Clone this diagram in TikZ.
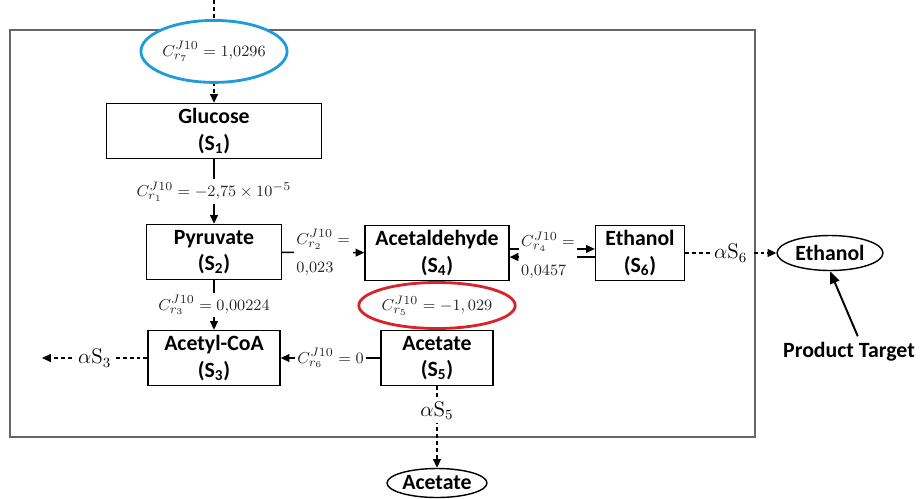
\documentclass[tikz,border=0pt]{standalone}
\usepackage{amsmath,amssymb}
\usepackage{fontspec}
\setsansfont{Carlito}
\usetikzlibrary{arrows.meta,positioning,shapes.geometric}
\definecolor{ringblue}{HTML}{1E9BD8}
\definecolor{ringred}{HTML}{D9232B}

\begin{document}
\begin{tikzpicture}[x=0.02cm,y=-0.02cm,
		box/.style={draw,line width=0.8pt,minimum height=1.1cm,align=center,inner sep=1pt,font=\sffamily\bfseries\fontsize{12.4}{15}\selectfont},
		rate/.style={fill=white,inner sep=1.5pt,align=left,text=black!85,font=\fontsize{9.5}{16}\selectfont},
		ring/.style={ellipse,draw,solid,line width=1.6pt,fill=white,inner sep=0pt,text=black!85,font=\fontsize{9.5}{12}\selectfont},
		sink/.style={ellipse,draw,line width=0.8pt,inner sep=0pt,font=\sffamily\bfseries\fontsize{12.4}{15}\selectfont},
		flux/.style={fill=white,inner sep=2pt,font=\fontsize{12}{14}\selectfont},
		arr/.style={line width=0.8pt,-{Triangle[length=5pt,width=4.5pt]}},
		darr/.style={arr,dash pattern=on 2.2pt off 1.7pt}]
	\useasboundingbox (0,0) rectangle (920,498);
	% Frame
	\draw[gray!80!black,line width=1.1pt] (10,30) rectangle (755,437);

	% Nodes
	\coordinate (in) at (214,0);
	\coordinate (out3) at (42,358);
	\node[box,minimum width=4.3cm] (s1) at (214,131) {Glucose\\(S\textsubscript{1})};
	\node[box,minimum width=2.7cm] (s2) at (214,252) {Pyruvate\\(S\textsubscript{2})};
	\node[box,minimum width=2.64cm] (s3) at (214,358) {Acetyl-CoA\\(S\textsubscript{3})};
	\node[box,minimum width=2.88cm] (s4) at (437,253) {Acetaldehyde\\(S\textsubscript{4})};
	\node[box,minimum width=2.24cm] (s5) at (437,358) {Acetate\\(S\textsubscript{5})};
	\node[box,minimum width=1.78cm] (s6) at (640,253) {Ethanol\\(S\textsubscript{6})};
	\node[sink,minimum width=2.12cm,minimum height=0.7cm] (p6) at (830,253) {Ethanol};
	\node[sink,minimum width=2cm,minimum height=0.58cm] (p5) at (437,483) {Acetate};
	\node[font=\sffamily\bfseries\fontsize{12.4}{15}\selectfont] (target) at (849,352) {Product Target};

	% Edges
	\draw[darr] (in) -- node[ring,draw=ringblue,minimum width=2.76cm,minimum height=1.24cm] {$C^{J10}_{r_7}=1{,}0296$} (s1);
	\draw[arr] (s1) -- node[rate] {$C^{J10}_{r_1}=-2{,}75\times10^{-5}$} (s2);
	\draw[arr] (s2) -- node[rate] {$C^{J10}_{r_2}=$\\$0{,}023$} (s4);
	\draw[arr] (s2) -- node[rate] {$C^{J10}_{r_3}=0{,}00224$} (s3);
	\draw[arr] ([yshift=2.3pt]s4.east) -- ([yshift=2.3pt]s6.west);
	\draw[arr] ([yshift=-2.3pt]s6.west) -- ([yshift=-2.3pt]s4.east);
	\node[rate] (r4) at (548,255) {$C^{J10}_{r_4}=$\\$0{,}0457$};
	\draw[arr] (s4) -- node[ring,draw=ringred,minimum width=3.1cm,minimum height=0.92cm] {$C^{J10}_{r_5}=-1,029$} (s5);
	\draw[arr] (s5) -- node[rate] {$C^{J10}_{r_6}=0$} (s3);
	\draw[darr] (s3) -- node[flux] {$\alpha\mathrm{S}_3$} (out3);
	\draw[darr] (s6) -- node[flux] {$\alpha\mathrm{S}_6$} (p6);
	\draw[darr] (s5) -- node[flux,pos=0.3] {$\alpha\mathrm{S}_5$} (p5);
	\draw[line width=1.1pt,-{Triangle[length=7pt,width=5.5pt]}] ([xshift=5pt]target.north) -- (p6.south);
\end{tikzpicture}
\end{document}
